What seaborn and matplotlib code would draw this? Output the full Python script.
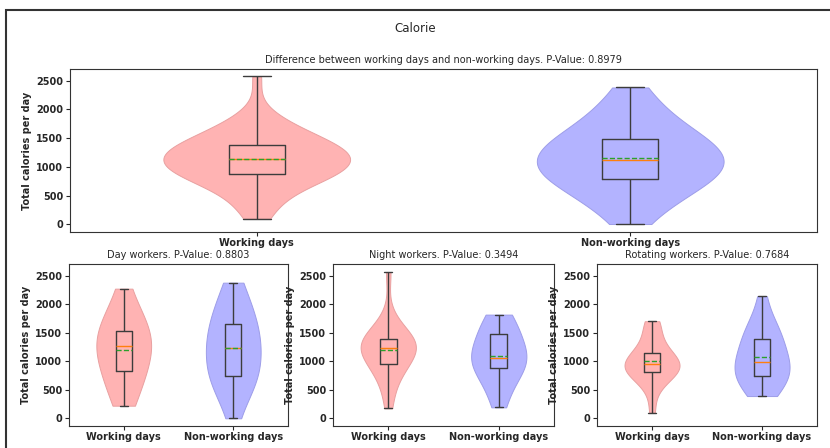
import numpy as np
import pandas as pd
import matplotlib
matplotlib.use("Agg")
import matplotlib.pyplot as plt
from matplotlib.patches import Rectangle
import seaborn as sns

# ---- data: total calories per day -------------------------------------
categories = ["Working days", "Non-working days"]

all_working = [100, 230, 380, 500, 600, 670, 730, 780, 820, 850,
               869, 895, 920, 945, 970, 995, 1020, 1045, 1075, 1105,
               1131, 1155, 1180, 1205, 1230, 1255, 1280, 1305, 1330, 1355,
               1381, 1410, 1445, 1485, 1530, 1585, 1650, 1720, 1785, 1900, 2575]
all_nonworking = [5, 150, 280, 380, 460, 530, 590, 645, 700, 750,
                  792, 825, 858, 890, 922, 955, 988, 1020, 1053, 1086,
                  1119, 1155, 1191, 1227, 1263, 1300, 1337, 1374, 1411, 1448,
                  1486, 1530, 1580, 1650, 1720, 1790, 1870, 1980, 2100, 2250, 2383]

day_working = [221, 330, 460, 590, 730, 822, 910, 1000, 1090, 1180, 1265,
               1320, 1375, 1430, 1485, 1538, 1620, 1720, 1850, 2000, 2273]
day_nonworking = [0, 400, 530, 615, 665, 740, 840, 940, 1040, 1135, 1230,
                  1315, 1400, 1485, 1570, 1655, 1780, 1900, 2030, 2180, 2378]

night_working = [175, 480, 680, 810, 900, 956, 1020, 1080, 1140, 1195, 1241,
                 1270, 1300, 1330, 1358, 1387, 1440, 1500, 1580, 1795, 2564]
night_nonworking = [192, 360, 520, 680, 820, 886, 925, 960, 995, 1030, 1061,
                    1100, 1160, 1240, 1340, 1480, 1520, 1590, 1660, 1770, 1818]

rot_working = [99, 480, 650, 735, 790, 804, 835, 865, 895, 922, 950,
               985, 1025, 1080, 1120, 1148, 1260, 1380, 1520, 1690, 1702]
rot_nonworking = [390, 450, 530, 600, 680, 746, 795, 845, 895, 945, 991,
                  1070, 1150, 1230, 1315, 1399, 1480, 1550, 1640, 1800, 2139]

panel_titles = ["Difference between working days and non-working days.",
                "Day workers.", "Night workers.", "Rotating workers."]
p_values = [0.8979, 0.8803, 0.3494, 0.7684]
y_ticks = [0, 500, 1000, 1500, 2000, 2500]

# ---- style -------------------------------------------------------------
sns.set_style("ticks")
plt.rcParams["font.family"] = ["DejaVu Sans"]
plt.rcParams["axes.edgecolor"] = "#333333"
plt.rcParams["axes.linewidth"] = 0.8

WORK_FACE, WORK_EDGE = "#ffb3b3", "#e8a0a0"
REST_FACE, REST_EDGE = "#b3b3ff", "#9d9de8"
BOX_COLOR = "#3c3c3c"


def draw_panel(ax, working, nonworking, title, p_value, bws):
    groups = [(categories[0], working, WORK_FACE, WORK_EDGE, bws[0]),
              (categories[1], nonworking, REST_FACE, REST_EDGE, bws[1])]
    frames = []
    for label, values, face, edge, bw in groups:
        df = pd.DataFrame({"day": label, "kcal": values})
        frames.append(df)
        sns.violinplot(data=df, x="day", y="kcal", order=categories,
                       color=face, saturation=1, linecolor=edge, linewidth=0.7,
                       inner=None, cut=0, width=0.5, density_norm="width",
                       bw_adjust=bw, ax=ax)
    both = pd.concat(frames, ignore_index=True)
    sns.boxplot(data=both, x="day", y="kcal", order=categories, fill=False,
                color=BOX_COLOR, width=0.15, whis=(0, 100), linewidth=1,
                showfliers=False, showmeans=True, meanline=True,
                medianprops=dict(color="#ff7f0e", linewidth=1),
                meanprops=dict(color="#2ca02c", linestyle="--", linewidth=1),
                ax=ax)
    ax.set_ylim(-135, 2705)
    ax.set_xlim(-0.5, 1.5)
    ax.set_yticks(y_ticks)
    ax.set_title(f"{title} P-Value: {p_value:.4f}", fontsize=7, pad=4)
    ax.set_xlabel("")
    ax.set_ylabel("Total calories per day", fontsize=7, fontweight="bold",
                  labelpad=3)
    ax.tick_params(axis="both", labelsize=7, length=3, width=0.8, pad=2)
    ax.tick_params(axis="x", pad=1)
    for lab in ax.get_xticklabels() + ax.get_yticklabels():
        lab.set_fontweight("bold")


fig = plt.figure(figsize=(8.3, 4.48), dpi=100)

ax_top = fig.add_axes([0.0843, 0.482, 0.900, 0.364])
ax_day = fig.add_axes([0.0831, 0.0491, 0.2639, 0.3616])
ax_night = fig.add_axes([0.4012, 0.0491, 0.2663, 0.3616])
ax_rot = fig.add_axes([0.7193, 0.0491, 0.2651, 0.3616])

draw_panel(ax_top, all_working, all_nonworking, panel_titles[0], p_values[0], (1.2, 1.3))
draw_panel(ax_day, day_working, day_nonworking, panel_titles[1], p_values[1], (1.4, 1.2))
draw_panel(ax_night, night_working, night_nonworking, panel_titles[2], p_values[2], (1.0, 1.3))
draw_panel(ax_rot, rot_working, rot_nonworking, panel_titles[3], p_values[3], (1.0, 1.1))

fig.suptitle("Calorie", x=0.5, y=1 - 28 / 448, va="center", fontsize=8.5)

# outer frame around the figure
fig.add_artist(Rectangle((6 / 830, -0.1), 1.2, 0.1 + (1 - 10 / 448),
                         transform=fig.transFigure, fill=False,
                         edgecolor="#333333", linewidth=1.5, clip_on=False))

fig.savefig("out.png", dpi=100)
